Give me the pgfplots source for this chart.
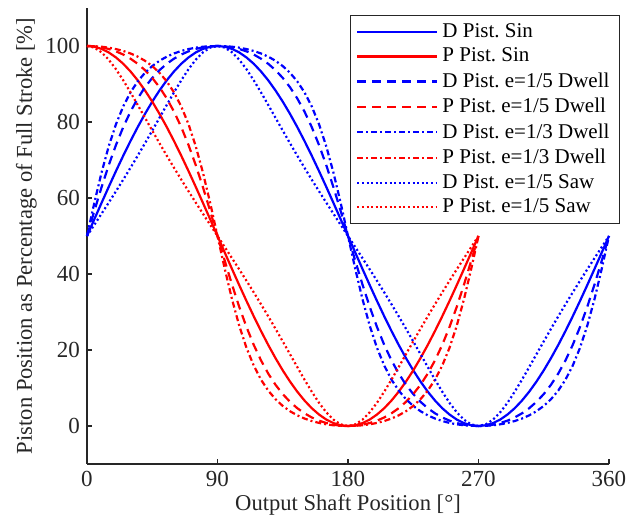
\documentclass[border=0pt]{standalone}
\usepackage{fontspec}
\setmainfont{Liberation Serif}
\usepackage{pgfplots}
\usepackage{pgfplotstable}
\pgfplotsset{compat=1.18}
\frenchspacing
\definecolor{mblue}{RGB}{0,0,255}
\definecolor{mred}{RGB}{255,0,0}
\definecolor{axgray}{RGB}{38,38,38}

\pgfplotstableread{
x DS D5 D3 DW
0 50 50 50 50
5 54.36 56.51 58.62 52.91
10 58.68 62.79 66.63 55.84
15 62.94 68.65 73.62 58.79
20 67.10 73.96 79.43 61.79
25 71.13 78.66 84.10 64.84
30 75.00 82.73 87.80 67.96
35 78.68 86.21 90.69 71.15
40 82.14 89.15 92.95 74.41
45 85.36 91.60 94.72 77.74
50 88.30 93.64 96.11 81.10
55 90.96 95.31 97.19 84.48
60 93.30 96.66 98.04 87.80
65 95.32 97.75 98.69 90.97
70 96.98 98.59 99.19 93.89
75 98.30 99.22 99.56 96.39
80 99.24 99.66 99.81 98.34
85 99.81 99.92 99.95 99.58
90 100 100 100 100
95 99.81 99.92 99.95 99.58
100 99.24 99.66 99.81 98.34
105 98.30 99.22 99.56 96.39
110 96.98 98.59 99.19 93.89
115 95.32 97.75 98.69 90.97
120 93.30 96.66 98.04 87.80
125 90.96 95.31 97.19 84.48
130 88.30 93.64 96.11 81.10
135 85.36 91.60 94.72 77.74
140 82.14 89.15 92.95 74.41
145 78.68 86.21 90.69 71.15
150 75.00 82.73 87.80 67.96
155 71.13 78.66 84.10 64.84
160 67.10 73.96 79.43 61.79
165 62.94 68.65 73.62 58.79
170 58.68 62.79 66.63 55.84
175 54.36 56.51 58.62 52.91
180 50 50 50 50
185 45.64 43.49 41.38 47.09
190 41.32 37.21 33.37 44.16
195 37.06 31.35 26.38 41.21
200 32.90 26.04 20.57 38.21
205 28.87 21.34 15.90 35.16
210 25.00 17.27 12.20 32.04
215 21.32 13.79 9.31 28.85
220 17.86 10.85 7.05 25.59
225 14.64 8.40 5.28 22.26
230 11.70 6.36 3.89 18.90
235 9.04 4.69 2.81 15.52
240 6.70 3.34 1.96 12.20
245 4.68 2.25 1.31 9.03
250 3.02 1.41 0.81 6.11
255 1.70 0.78 0.44 3.61
260 0.76 0.34 0.19 1.66
265 0.19 0.08 0.05 0.42
270 0 0 0 0
275 0.19 0.08 0.05 0.42
280 0.76 0.34 0.19 1.66
285 1.70 0.78 0.44 3.61
290 3.02 1.41 0.81 6.11
295 4.68 2.25 1.31 9.03
300 6.70 3.34 1.96 12.20
305 9.04 4.69 2.81 15.52
310 11.70 6.36 3.89 18.90
315 14.64 8.40 5.28 22.26
320 17.86 10.85 7.05 25.59
325 21.32 13.79 9.31 28.85
330 25.00 17.27 12.20 32.04
335 28.87 21.34 15.90 35.16
340 32.90 26.04 20.57 38.21
345 37.06 31.35 26.38 41.21
350 41.32 37.21 33.37 44.16
355 45.64 43.49 41.38 47.09
360 50 50 50 50
}\Dtab

\pgfplotstableread{
x PS P5 P3 PW
0 100 100 100 100
5 99.81 99.92 99.95 99.58
10 99.24 99.66 99.81 98.34
15 98.30 99.22 99.56 96.39
20 96.98 98.59 99.19 93.89
25 95.32 97.75 98.69 90.97
30 93.30 96.66 98.04 87.80
35 90.96 95.31 97.19 84.48
40 88.30 93.64 96.11 81.10
45 85.36 91.60 94.72 77.74
50 82.14 89.15 92.95 74.41
55 78.68 86.21 90.69 71.15
60 75.00 82.73 87.80 67.96
65 71.13 78.66 84.10 64.84
70 67.10 73.96 79.43 61.79
75 62.94 68.65 73.62 58.79
80 58.68 62.79 66.63 55.84
85 54.36 56.51 58.62 52.91
90 50 50 50 50
95 45.64 43.49 41.38 47.09
100 41.32 37.21 33.37 44.16
105 37.06 31.35 26.38 41.21
110 32.90 26.04 20.57 38.21
115 28.87 21.34 15.90 35.16
120 25.00 17.27 12.20 32.04
125 21.32 13.79 9.31 28.85
130 17.86 10.85 7.05 25.59
135 14.64 8.40 5.28 22.26
140 11.70 6.36 3.89 18.90
145 9.04 4.69 2.81 15.52
150 6.70 3.34 1.96 12.20
155 4.68 2.25 1.31 9.03
160 3.02 1.41 0.81 6.11
165 1.70 0.78 0.44 3.61
170 0.76 0.34 0.19 1.66
175 0.19 0.08 0.05 0.42
180 0 0 0 0
185 0.19 0.08 0.05 0.42
190 0.76 0.34 0.19 1.66
195 1.70 0.78 0.44 3.61
200 3.02 1.41 0.81 6.11
205 4.68 2.25 1.31 9.03
210 6.70 3.34 1.96 12.20
215 9.04 4.69 2.81 15.52
220 11.70 6.36 3.89 18.90
225 14.64 8.40 5.28 22.26
230 17.86 10.85 7.05 25.59
235 21.32 13.79 9.31 28.85
240 25.00 17.27 12.20 32.04
245 28.87 21.34 15.90 35.16
250 32.90 26.04 20.57 38.21
255 37.06 31.35 26.38 41.21
260 41.32 37.21 33.37 44.16
265 45.64 43.49 41.38 47.09
270 50 50 50 50
}\Ptab

\begin{document}
\begin{tikzpicture}
\useasboundingbox (-43.5pt,-32.5pt) rectangle (275.5pt,232pt);
\begin{axis}[
  at={(0pt,0pt)}, anchor=south west,
  scale only axis, width=261pt, height=228pt,
  xmin=0, xmax=360, ymin=-10, ymax=110,
  xtick={0,90,180,270,360}, ytick={0,20,40,60,80,100},
  axis lines=left,
  axis line style={-, color=axgray, line width=0.6pt},
  tick align=inside,
  major tick length=2.5pt,
  tick style={color=axgray, line width=0.6pt},
  /pgf/number format/assume math mode=true,
  tick label style={font=\fontsize{11.5}{13}\selectfont, color=black!85},
  label style={font=\fontsize{11.3}{13}\selectfont, color=black!85},
  xlabel={Output Shaft Position [°]},
  ylabel={Piston Position as Percentage of Full Stroke [\%]},
  xlabel style={yshift=3pt},
  ylabel style={yshift=-2.5pt},
  clip=false,
  legend cell align=left,
  legend style={at={(rel axis cs:1.021,0.985)}, anchor=north east,
    draw=axgray, line width=0.5pt, fill=white,
    font=\fontsize{10.5}{12}\selectfont, row sep=-0.1pt,
    inner xsep=3pt, inner ysep=2pt},
  legend image code/.code={\draw[#1, line width=1.1pt] (0pt,0pt) -- (40pt,0pt);},
  every axis plot/.append style={line width=1.1pt},
]
\addplot[mblue, solid] table[x=x, y=DS] {\Dtab};
\addlegendentry{D Pist. Sin}
\addplot[mred, solid] table[x=x, y=PS] {\Ptab};
\addlegendentry{P Pist. Sin}
\addplot[mblue, dash pattern=on 4.5pt off 3pt] table[x=x, y=D5] {\Dtab};
\addlegendentry{D Pist. e=1/5 Dwell}
\addplot[mred, dash pattern=on 4.5pt off 3pt] table[x=x, y=P5] {\Ptab};
\addlegendentry{P Pist. e=1/5 Dwell}
\addplot[mblue, dash pattern=on 3pt off 1.5pt on 1pt off 1.5pt] table[x=x, y=D3] {\Dtab};
\addlegendentry{D Pist. e=1/3 Dwell}
\addplot[mred, dash pattern=on 3pt off 1.5pt on 1pt off 1.5pt] table[x=x, y=P3] {\Ptab};
\addlegendentry{P Pist. e=1/3 Dwell}
\addplot[mblue, dash pattern=on 1pt off 1.3pt] table[x=x, y=DW] {\Dtab};
\addlegendentry{D Pist. e=1/5 Saw}
\addplot[mred, dash pattern=on 1pt off 1.3pt] table[x=x, y=PW] {\Ptab};
\addlegendentry{P Pist. e=1/5 Saw}
\end{axis}
\end{tikzpicture}
\end{document}
